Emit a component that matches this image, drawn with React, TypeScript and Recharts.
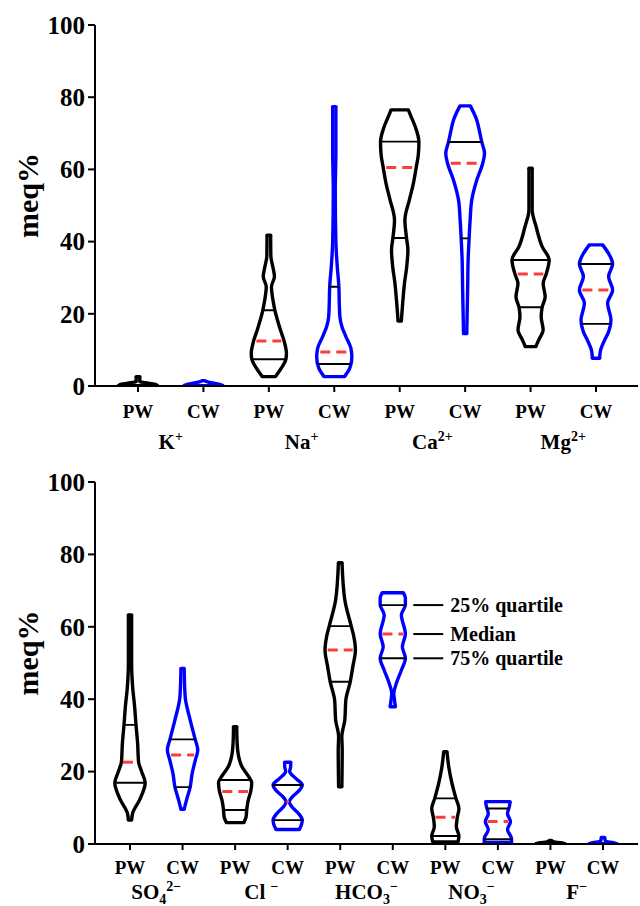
import React from 'react';
import { ComposedChart, Area, Line, XAxis, YAxis, ReferenceLine } from 'recharts';

const FONT = '"Liberation Serif", "Times New Roman", serif';
const BLACK = '#000000';
const BLUE = '#0000ff';
const RED = '#ff3b3b';

const Y_TICKS = [0, 20, 40, 60, 80, 100];

// ---- cations (top panel) ----
const CATION_TICKS = ['PW', 'CW', 'PW', 'CW', 'PW', 'CW', 'PW', 'CW'];
const CATION_NAMES = [
  [['K', ''], ['+', 'sup']],
  [['Na', ''], ['+', 'sup']],
  [['Ca', ''], ['2+', 'sup']],
  [['Mg', ''], ['2+', 'sup']],
];

// violin outlines: [meq%, relative half width], bottom to top
const K_PW = [[0.1, 0.98], [0.5, 0.83], [0.9, 0.38], [1.2, 0.09], [2.6, 0.09]];
const K_CW = [[0.1, 0.98], [0.5, 0.78], [0.9, 0.38], [1.3, 0.13], [1.5, 0.05]];
const NA_PW = [[2.6, 0.33], [5, 0.63], [7.4, 0.85], [9, 0.88], [12.5, 0.76], [15.5, 0.58], [21, 0.3], [24, 0.2], [27.5, 0.13], [30.3, 0.28], [33, 0.2], [36, 0.1], [41.8, 0.09]];
const NA_CW = [[2.6, 0.51], [5, 0.78], [8, 0.88], [10.5, 0.83], [13.7, 0.58], [16.5, 0.38], [19.2, 0.28], [23, 0.25], [27.5, 0.23], [33, 0.15], [40, 0.08], [54, 0.05], [65, 0.08], [77.4, 0.08]];
const CA_PW = [[18, 0.08], [23, 0.15], [28.5, 0.24], [33, 0.35], [37.7, 0.41], [41, 0.34], [46, 0.26], [51.5, 0.48], [56, 0.68], [60.7, 0.83], [64, 0.93], [67.6, 0.96], [71.8, 0.78], [74.5, 0.58], [76.5, 0.43]];
const CA_CW = [[14.5, 0.08], [20, 0.1], [28.5, 0.13], [35, 0.15], [41, 0.2], [46, 0.25], [51.5, 0.33], [57, 0.58], [61.7, 0.88], [64.5, 0.97], [67.6, 0.83], [71, 0.7], [73.7, 0.58], [77.6, 0.26]];
const MG_PW = [[10.9, 0.26], [13, 0.43], [15.5, 0.63], [19.2, 0.53], [21.8, 0.58], [24.7, 0.73], [28.4, 0.63], [31, 0.78], [34.9, 0.93], [38.6, 0.58], [44.1, 0.28], [48.8, 0.08], [60.3, 0.08]];
const MG_CW = [[7.7, 0.18], [10, 0.23], [12.7, 0.43], [15, 0.63], [18.3, 0.75], [22.9, 0.58], [26.6, 0.83], [30.3, 0.63], [33.8, 0.83], [36.7, 0.63], [39.1, 0.33]];

// [lower quartile, median, upper quartile]
const NA_PW_Q = [7.4, 12.5, 21.0];
const NA_CW_Q = [6.1, 9.4, 27.5];
const CA_PW_Q = [41.0, 60.5, 67.7];
const CA_CW_Q = [40.9, 61.7, 67.6];
const MG_PW_Q = [21.8, 31.0, 34.9];
const MG_CW_Q = [17.2, 26.6, 33.8];

// ---- anions (bottom panel) ----
const ANION_TICKS = ['PW', 'CW', 'PW', 'CW', 'PW', 'CW', 'PW', 'CW', 'PW', 'CW'];
const ANION_NAMES = [
  [['SO', ''], ['4', 'sub'], ['2\u2212', 'sup']],
  [['Cl\u00a0', ''], ['\u2212', 'sup']],
  [['HCO', ''], ['3', 'sub'], ['\u2212', 'sup']],
  [['NO', ''], ['3', 'sub'], ['\u2212', 'sup']],
  [['F', ''], ['\u2212', 'sup']],
];

const SO4_PW = [[6.6, 0.08], [8.5, 0.13], [12.2, 0.48], [16.9, 0.76], [20, 0.58], [22.6, 0.43], [27.9, 0.38], [32.9, 0.3], [38, 0.23], [43.5, 0.13], [50, 0.08], [63.3, 0.08]];
const SO4_CW = [[9.6, 0.08], [12.2, 0.2], [15.7, 0.38], [19.5, 0.48], [23, 0.63], [26, 0.76], [28.9, 0.63], [34.3, 0.38], [40.7, 0.13], [48.5, 0.08]];
const CL_PW = [[5.9, 0.43], [7.5, 0.55], [9.4, 0.58], [12, 0.65], [14.5, 0.78], [17, 0.83], [19, 0.63], [21.5, 0.33], [24.1, 0.18], [28, 0.1], [32.4, 0.08]];
const CL_CW = [[4.0, 0.58], [5.5, 0.7], [6.6, 0.73], [8.5, 0.53], [10.5, 0.18], [11.7, 0.08], [13, 0.23], [14.8, 0.58], [16.3, 0.73], [18, 0.43], [20, 0.1], [21.5, 0.15], [22.6, 0.15]];
const HCO3_PW = [[15.8, 0.08], [26, 0.1], [29.6, 0.08], [34.3, 0.23], [39.8, 0.28], [44.8, 0.5], [49, 0.63], [53.6, 0.76], [57.3, 0.68], [60.2, 0.55], [67.4, 0.23], [77.7, 0.09]];
const HCO3_CW = [[37.9, 0.13], [40, 0.08], [41.6, 0.05], [44.4, 0.18], [48, 0.43], [51.3, 0.63], [54.5, 0.48], [58, 0.63], [63.3, 0.43], [66, 0.63], [68, 0.63], [69.4, 0.53]];
const NO3_PW = [[0.6, 0.63], [2.2, 0.68], [4.8, 0.55], [7.4, 0.6], [9.8, 0.68], [12.6, 0.53], [16.8, 0.33], [21, 0.18], [25.5, 0.08]];
const NO3_CW = [[0.4, 0.68], [1.5, 0.68], [4, 0.48], [6.2, 0.63], [8.4, 0.48], [10.5, 0.58], [11.7, 0.61]];
const F_PW = [[0.05, 0.73], [0.35, 0.53], [0.6, 0.18], [1.0, 0.05]];
const F_CW = [[0.05, 0.7], [0.4, 0.53], [0.7, 0.13], [1.8, 0.08]];

const SO4_PW_Q = [16.9, 22.6, 32.9];
const SO4_CW_Q = [15.7, 24.6, 28.9];
const CL_PW_Q = [9.4, 14.5, 17.7];
const CL_CW_Q = [6.6, 11.7, 16.3];
const HCO3_PW_Q = [44.8, 53.6, 60.2];
const HCO3_CW_Q = [51.3, 58.0, 66.0];
const NO3_PW_Q = [2.2, 7.4, 12.6];
const NO3_CW_Q = [1.3, 6.2, 9.8];

const LEGEND_TEXT = ['75% quartile', 'Median', '25% quartile'];

const CATIONS = [
  { profile: K_PW, q: null },
  { profile: K_CW, q: null },
  { profile: NA_PW, q: NA_PW_Q },
  { profile: NA_CW, q: NA_CW_Q },
  { profile: CA_PW, q: CA_PW_Q },
  { profile: CA_CW, q: CA_CW_Q },
  { profile: MG_PW, q: MG_PW_Q },
  { profile: MG_CW, q: MG_CW_Q },
];

const ANIONS = [
  { profile: SO4_PW, q: SO4_PW_Q },
  { profile: SO4_CW, q: SO4_CW_Q },
  { profile: CL_PW, q: CL_PW_Q },
  { profile: CL_CW, q: CL_CW_Q },
  { profile: HCO3_PW, q: HCO3_PW_Q },
  { profile: HCO3_CW, q: HCO3_CW_Q },
  { profile: NO3_PW, q: NO3_PW_Q },
  { profile: NO3_CW, q: NO3_CW_Q },
  { profile: F_PW, q: null },
  { profile: F_CW, q: null },
];

// width of the outline at a given level
const widthAt = (profile: number[][], v: number) => {
  for (let i = 1; i < profile.length; i++) {
    const [v0, d0] = profile[i - 1];
    const [v1, d1] = profile[i];
    if (v >= v0 && v <= v1) return d0 + ((d1 - d0) * (v - v0)) / (v1 - v0);
  }
  return 0;
};

const outline = (profile: number[][], pos: number, half: number) =>
  profile.map(([v, d]) => ({ v, x: [pos - d * half, pos + d * half] }));

const hseg = (v: number, pos: number, w: number) => [
  { v, x: pos - w },
  { v, x: pos + w },
];

const GroupTick = (props: any) => {
  const { x, y, payload, names, dy } = props;
  const parts = names[Math.round((payload.value - 1.5) / 2)] || [];
  let shift = 0;
  return (
    <text x={x} y={y + dy} textAnchor="middle" fontFamily={FONT} fontWeight="bold" fontSize={21} fill={BLACK}>
      {parts.map(([t, kind]: string[], i: number) => {
        const target = kind === 'sup' ? -8 : kind === 'sub' ? 5 : 0;
        const d = target - shift;
        shift = target;
        return (
          <tspan key={i} dy={d} fontSize={kind ? 14 : 21}>
            {t}
          </tspan>
        );
      })}
    </text>
  );
};

const AxisTitle = (props: any) => {
  const { viewBox } = props;
  const cx = viewBox.x + 27;
  const cy = viewBox.y + viewBox.height / 2 - 10;
  return (
    <text
      x={cx}
      y={cy}
      transform={`rotate(-90, ${cx}, ${cy})`}
      textAnchor="middle"
      dominantBaseline="central"
      fontFamily={FONT}
      fontWeight="bold"
      fontSize={30}
      fill={BLACK}
    >
      meq%
    </text>
  );
};

const tickFont = { fill: BLACK, fontFamily: FONT, fontWeight: 'bold' };

const seg = (key: string, data: any[], stroke: string, width: number, dash?: string) => (
  <Line
    key={key}
    data={data}
    dataKey="x"
    type="linear"
    stroke={stroke}
    strokeWidth={width}
    strokeDasharray={dash}
    strokeLinecap={dash ? 'butt' : 'round'}
    dot={false}
    activeDot={false}
    isAnimationActive={false}
  />
);

const Panel = ({ violins, ticks, names, domain, half, top, height, margin, axisH, groupH, tickMargin, groupDy, children }: any) => {
  const catTicks = ticks.map((_: string, i: number) => i + 1);
  const groupTicks = names.map((_: any, i: number) => i * 2 + 1.5);

  const series = violins.flatMap((vl: any, i: number) => {
    const pos = i + 1;
    const color = i % 2 === 0 ? BLACK : BLUE;
    const p = vl.profile;
    const lo = p[0];
    const hi = p[p.length - 1];
    const els = [
      <Area
        key={`a${i}`}
        data={outline(p, pos, half)}
        dataKey="x"
        type="monotone"
        stroke={color}
        strokeWidth={3.4}
        strokeLinejoin="round"
        fill="none"
        dot={false}
        activeDot={false}
        isAnimationActive={false}
      />,
      seg(`lo${i}`, hseg(lo[0], pos, lo[1] * half), color, 3.4),
      seg(`hi${i}`, hseg(hi[0], pos, hi[1] * half), color, 3.4),
    ];
    if (vl.q) {
      const [q1, med, q3] = vl.q;
      els.push(
        seg(`q1${i}`, hseg(q1, pos, widthAt(p, q1) * half), BLACK, 1.9),
        seg(`q3${i}`, hseg(q3, pos, widthAt(p, q3) * half), BLACK, 1.9),
        seg(`m${i}`, hseg(med, pos, widthAt(p, med) * half * 0.82), RED, 3, '10 6')
      );
    }
    return els;
  });

  return (
    <div style={{ position: 'absolute', left: 0, top }}>
      <ComposedChart width={640} height={height} layout="vertical" margin={margin}>
        <YAxis
          type="number"
          dataKey="v"
          domain={[0, 100]}
          ticks={Y_TICKS}
          reversed
          allowDataOverflow
          interval={0}
          width={95}
          axisLine={{ stroke: BLACK, strokeWidth: 2 }}
          tickLine={{ stroke: BLACK, strokeWidth: 2 }}
          tickSize={7}
          tickMargin={3}
          tick={{ ...tickFont, fontSize: 25 }}
          label={<AxisTitle />}
        />
        <XAxis
          type="number"
          domain={domain}
          ticks={catTicks}
          allowDataOverflow
          interval={0}
          height={axisH}
          axisLine={{ stroke: BLACK, strokeWidth: 2 }}
          tickLine={{ stroke: BLACK, strokeWidth: 2 }}
          tickSize={6}
          tickMargin={tickMargin}
          tickFormatter={(v: number) => ticks[Math.round(v) - 1]}
          tick={{ ...tickFont, fontSize: 19 }}
        />
        <XAxis
          xAxisId="grp"
          type="number"
          domain={domain}
          ticks={groupTicks}
          allowDataOverflow
          interval={0}
          height={groupH}
          axisLine={false}
          tickLine={false}
          tickSize={0}
          tickMargin={0}
          tick={<GroupTick names={names} dy={groupDy} />}
        />
        {series}
        {children}
      </ComposedChart>
    </div>
  );
};

export default function App() {
  return (
    <div style={{ position: 'absolute', left: 0, top: 0, width: 640, height: 906, background: '#fff' }}>
      <Panel
        violins={CATIONS}
        ticks={CATION_TICKS}
        names={CATION_NAMES}
        domain={[0.343, 8.642]}
        half={20 / 65.43}
        top={0}
        height={460}
        margin={{ top: 25, right: 2, bottom: 8, left: 0 }}
        axisH={36}
        groupH={30}
        tickMargin={13}
        groupDy={27}
      />
      <Panel
        violins={ANIONS}
        ticks={ANION_TICKS}
        names={ANION_NAMES}
        domain={[0.334, 10.666]}
        half={20 / 52.55}
        top={460}
        height={446}
        margin={{ top: 22, right: 2, bottom: 0, left: 0 }}
        axisH={34}
        groupH={28}
        tickMargin={11}
        groupDy={21}
      >
        {LEGEND_TEXT.map((t, i) => (
          <ReferenceLine
            key={t}
            segment={[
              { x: 6.39, y: HCO3_CW_Q[i] },
              { x: 6.96, y: HCO3_CW_Q[i] },
            ]}
            stroke={BLACK}
            strokeWidth={2}
            ifOverflow="visible"
            label={{ value: t, position: 'right', offset: 7, fill: BLACK, fontSize: 20, fontWeight: 'bold', fontFamily: FONT }}
          />
        ))}
      </Panel>
    </div>
  );
}
